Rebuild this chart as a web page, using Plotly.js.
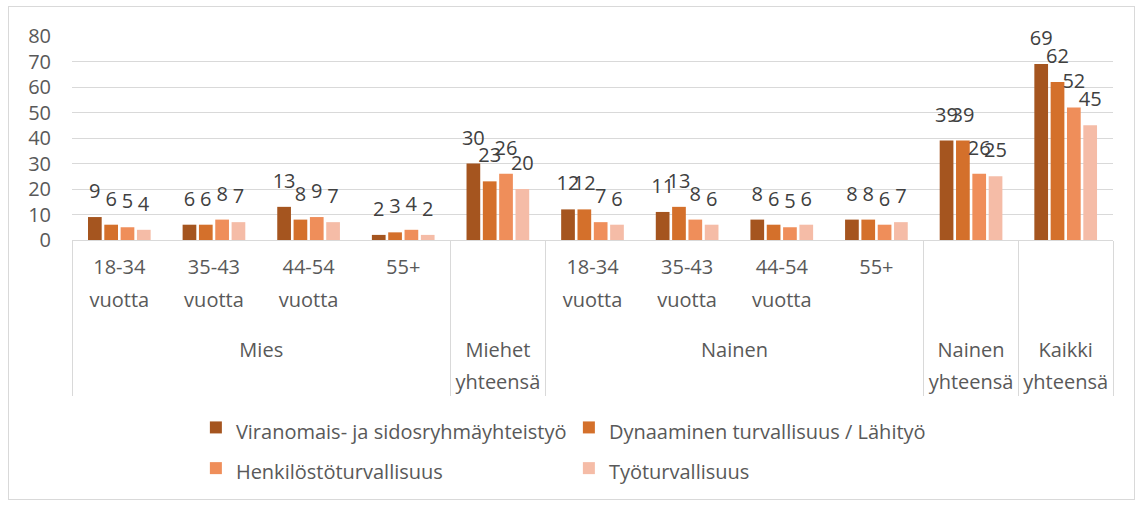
<!DOCTYPE html>
<html>
<head>
<meta charset="utf-8">
<script src="https://cdn.plot.ly/plotly-3.0.1.min.js"></script>
<style>
  html, body { margin: 0; padding: 0; background: #ffffff; }
  #chart { position: absolute; left: 8px; top: 6px; width: 1127px; height: 494px; box-sizing: border-box; border: 1px solid #d9d9d9; }
</style>
</head>
<body>
<div id="chart"></div>
<script>
// Multi-level categories (each line of text listed separately)
const groupLabels = [["Mies"],["Mies"],["Mies"],["Mies"],["Miehet","yhteensä"],["Nainen"],["Nainen"],["Nainen"],["Nainen"],["Nainen","yhteensä"],["Kaikki","yhteensä"]];
const ageLabels = [["18-34","vuotta"],["35-43","vuotta"],["44-54","vuotta"],["55+"],[""],["18-34","vuotta"],["35-43","vuotta"],["44-54","vuotta"],["55+"],[" "],["  "]];

const seriesNames = ["Viranomais- ja sidosryhmäyhteistyö","Dynaaminen turvallisuus / Lähityö","Henkilöstöturvallisuus","Työturvallisuus"];
const viranomais = [9, 6, 13, 2, 30, 12, 11, 8, 8, 39, 69];
const dynaaminen = [6, 6, 8, 3, 23, 12, 13, 6, 8, 39, 62];
const henkilosto = [5, 8, 9, 4, 26, 7, 8, 5, 6, 26, 52];
const tyo = [4, 7, 7, 2, 20, 6, 6, 6, 7, 25, 45];
const yTicks = [0, 10, 20, 30, 40, 50, 60, 70, 80];

const colors = ["#A5551F", "#D4702B", "#EF8E5A", "#F5BCA7"];
const allSeries = [viranomais, dynaaminen, henkilosto, tyo];

// wrap each line in a 20px span; the outer font size sets the line spacing
const span = s => "<span style='font-size:20px'>" + s + "</span>";
const pad = "<span style='font-size:37px'>\u200A</span>";
const fmtParent = lines => lines.map(s => s.trim() === "" ? s : span(s)).join("<br>");
// the last line of each child label gets balanced tall hair spaces to deepen the first level
const fmtChild = lines => lines.map((s, k) => {
  if (s.trim() === "") return s;
  return k === lines.length - 1 ? pad + span(s) + pad : span(s);
}).join("<br>");
const xParents = groupLabels.map(fmtParent);
const xChildren = ageLabels.map(fmtChild);

const traces = allSeries.map((vals, i) => ({
  type: "bar",
  name: span(seriesNames[i]),
  x: [xParents, xChildren],
  y: vals,
  marker: { color: colors[i] },
  text: vals.map(String),
  texttemplate: span("%{text}") + "<br> ",
  textposition: "outside",
  constraintext: "none",
  cliponaxis: false,
  textfont: { family: "Open Sans", size: 10, color: "#404040" },
  hoverinfo: "skip"
}));

const layout = {
  width: 1125,
  height: 492,
  margin: { l: 63, r: 21, t: 29, b: 259 },
  paper_bgcolor: "#ffffff",
  plot_bgcolor: "#ffffff",
  font: { family: "Open Sans", size: 20, color: "#595959" },
  barmode: "group",
  bargap: 0.31,
  bargroupgap: 0.16,
  showlegend: true,
  legend: {
    orientation: "h",
    xref: "paper", yref: "container",
    x: 0.119, xanchor: "left",
    y: 0.197, yanchor: "top",
    entrywidth: 328,
    font: { family: "Open Sans", size: 29, color: "#595959" },
    traceorder: "normal"
  },
  xaxis: {
    type: "multicategory",
    automargin: false,
    showline: true,
    linecolor: "#d9d9d9",
    linewidth: 1,
    ticks: "",
    ticklabelstandoff: 3,
    showdividers: true,
    dividercolor: "#d9d9d9",
    dividerwidth: 1,
    tickfont: { family: "Open Sans", size: 25, color: "#595959" }
  },
  yaxis: {
    range: [0, 80],
    automargin: false,
    tickvals: yTicks,
    ticktext: yTicks.map(String),
    showgrid: true,
    gridcolor: "#d9d9d9",
    gridwidth: 1,
    zeroline: false,
    showline: false,
    ticks: "",
    ticklabelstandoff: 20,
    tickfont: { family: "Open Sans", size: 20, color: "#595959" }
  }
};

Plotly.newPlot("chart", traces, layout, { displayModeBar: false, staticPlot: true });
</script>
</body>
</html>
